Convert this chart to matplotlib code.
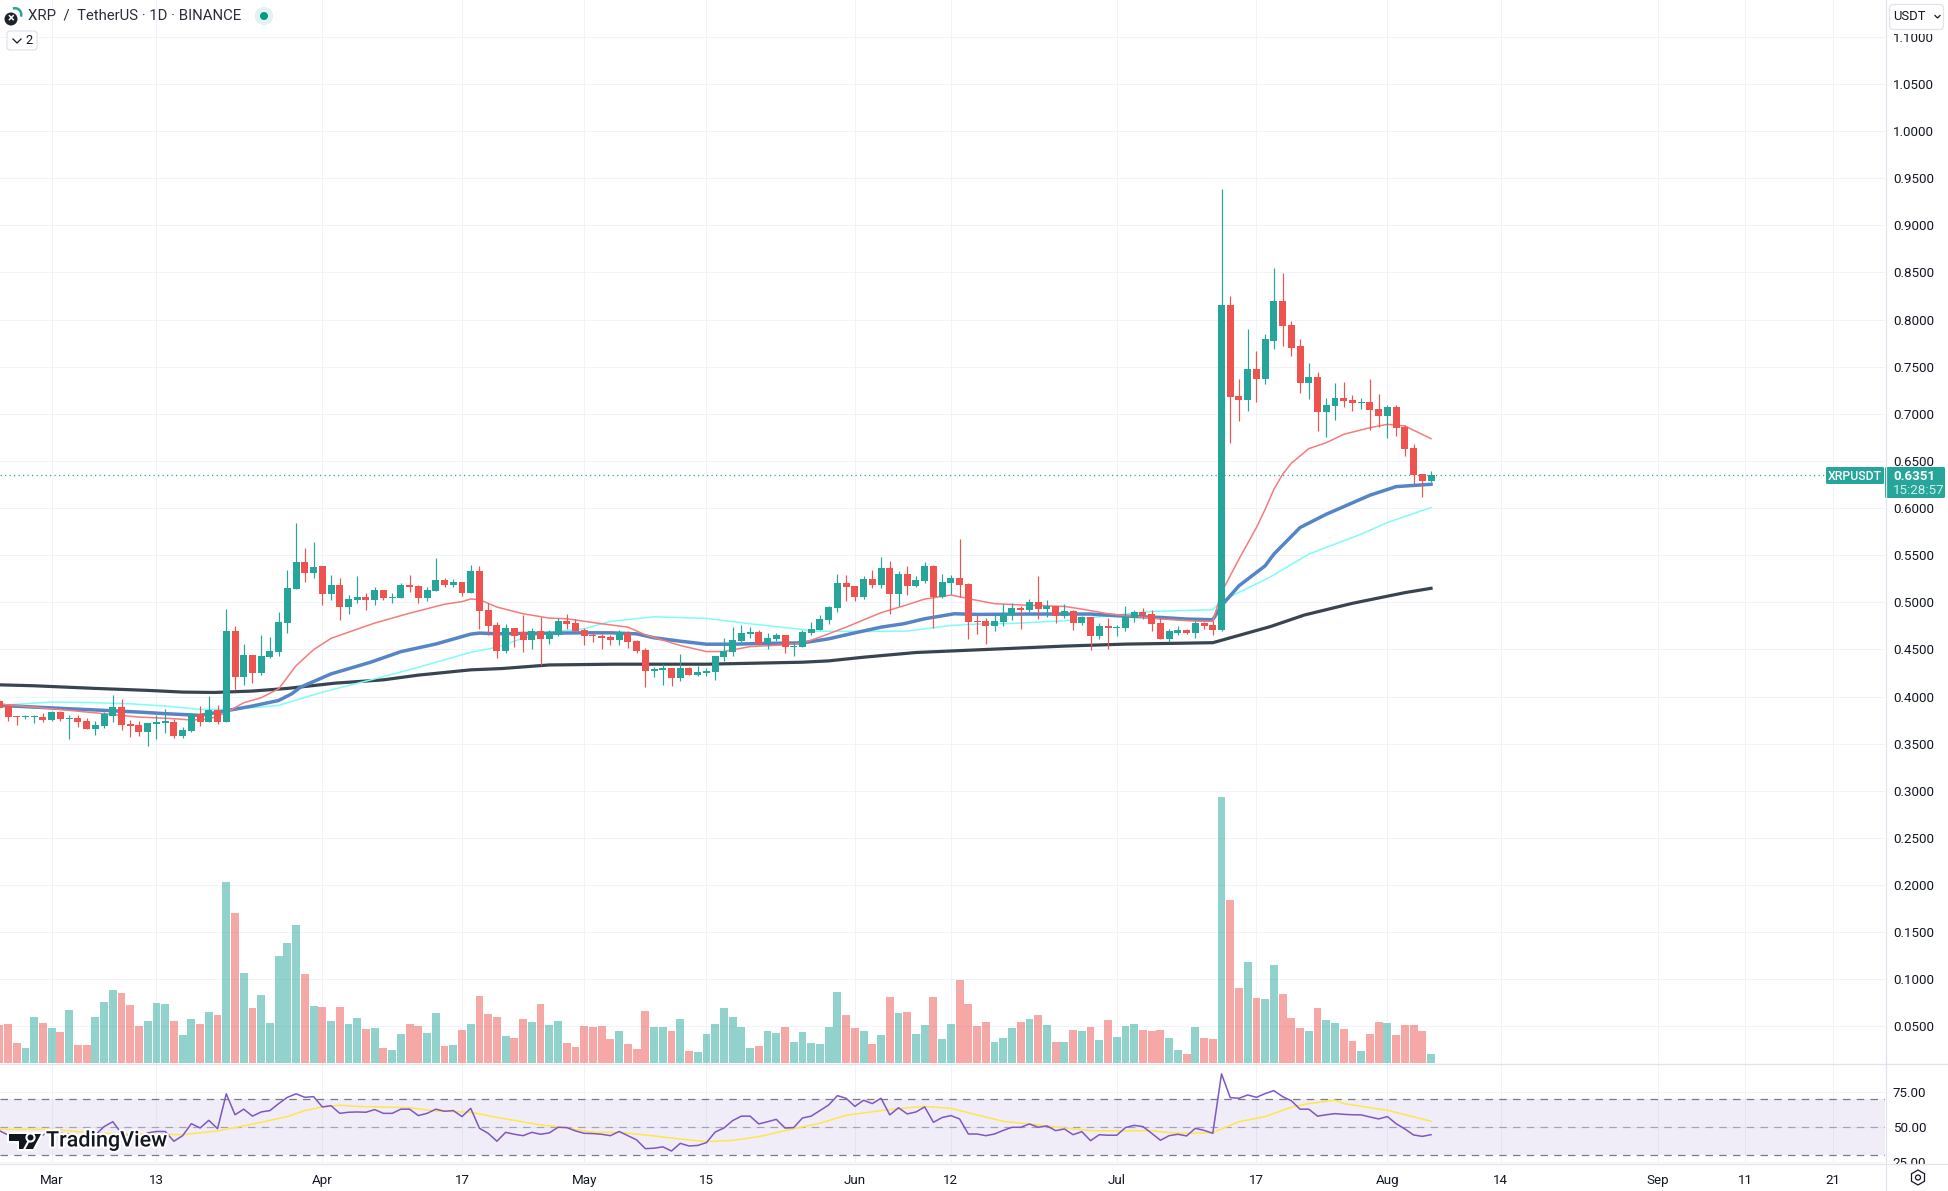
import matplotlib
matplotlib.use("Agg")
import matplotlib.pyplot as plt
import matplotlib.patheffects as pe
from matplotlib.patches import Rectangle, FancyBboxPatch, Circle, RegularPolygon, Polygon, Wedge

# days are counted from 1 Mar 2023
first_day = -6

open_px = [
    .3955, .3899, .3793, .3779, .3779, .3786, .3754, .3839, .3765, .3775,
    .3744, .3659, .3691, .3796, .3892, .3712, .3701, .3627, .3712, .3723,
    .3733, .3585, .3638, .3811, .3733, .3860, .3733, .4694, .4208, .4441,
    .4251, .4420, .4472, .4779, .5138, .5423, .5307, .5380, .5085, .5180,
    .4948, .5021, .5053, .5021, .5127, .5043, .5043, .5180, .5169, .5043,
    .5116, .5233, .5180, .5212, .5095, .5328, .4916, .4757, .4484, .4729,
    .4687, .4601, .4697, .4612, .4655, .4804, .4782, .4708, .4655, .4644,
    .4633, .4601, .4676, .4591, .4495, .4271, .4282, .4303, .4197, .4303,
    .4229, .4250, .4261, .4420, .4474, .4591, .4665, .4687, .4569, .4612,
    .4655, .4527, .4527, .4676, .4708, .4814, .4942, .5208, .5176, .5059,
    .5251, .5187, .5368, .5091, .5304, .5176, .5230, .5389, .5059, .5208,
    .5262, .5198, .4804, .4800, .4747, .4790, .4864, .4939, .4917, .5003,
    .4928, .4960, .4853, .4907, .4779, .4843, .4640, .4747, .4726, .4726,
    .4832, .4896, .4875, .4779, .4609, .4672, .4704, .4672, .4779, .4758,
    .4706, .8158, .7184, .7142, .7470, .7364, .7777, .8201, .7947, .7714,
    .7322, .7385, .7015, .7078, .7163, .7142, .7110, .7121, .7046, .6972,
    .7068, .6856, .6633, .6358, .6284,
]
high_px = [
    .3976, .3913, .3793, .3807, .3807, .3825, .3849, .3849, .3807, .3807,
    .3772, .3744, .3839, .4018, .3976, .3754, .3744, .3723, .3807, .3870,
    .3765, .3680, .3828, .3902, .4008, .3913, .4926, .4747, .4557, .4441,
    .4652, .4631, .4895, .5338, .5845, .5581, .5644, .5380, .5285, .5254,
    .5074, .5275, .5095, .5159, .5127, .5095, .5201, .5285, .5180, .5159,
    .5465, .5254, .5243, .5212, .5391, .5380, .4990, .4789, .4772, .4729,
    .4868, .4729, .4846, .4708, .4836, .4878, .4825, .4729, .4676, .4665,
    .4655, .4708, .4697, .4601, .4516, .4314, .4346, .4303, .4452, .4314,
    .4324, .4303, .4431, .4623, .4740, .4761, .4740, .4708, .4676, .4676,
    .4655, .4580, .4708, .4793, .4868, .4963, .5304, .5294, .5176, .5283,
    .5347, .5475, .5443, .5336, .5389, .5283, .5432, .5400, .5304, .5294,
    .5666, .5208, .4868, .4832, .4864, .4981, .4992, .4960, .5035, .5280,
    .5024, .4960, .4981, .4917, .4853, .4843, .4779, .4832, .4758, .4960,
    .4917, .4939, .4917, .4832, .4715, .4747, .4715, .4800, .4790, .4800,
    .9387, .8254, .7364, .7904, .7661, .7851, .8550, .8497, .7989, .7798,
    .7534, .7438, .7163, .7322, .7332, .7195, .7163, .7364, .7205, .7089,
    .7089, .6877, .6676, .6358, .6390,
]
low_px = [
    .3860, .3736, .3701, .3758, .3716, .3726, .3736, .3744, .3547, .3680,
    .3659, .3596, .3670, .3733, .3649, .3575, .3585, .3480, .3554, .3617,
    .3564, .3564, .3627, .3691, .3733, .3712, .3733, .4071, .4124, .4145,
    .4229, .4409, .4430, .4673, .5138, .5212, .5254, .4969, .5021, .4810,
    .4874, .4990, .4916, .4969, .5021, .4990, .5043, .5106, .4990, .5011,
    .5116, .5159, .5159, .5064, .5095, .4715, .4652, .4409, .4463, .4527,
    .4474, .4506, .4335, .4559, .4644, .4719, .4697, .4548, .4580, .4506,
    .4548, .4548, .4516, .4463, .4101, .4207, .4122, .4111, .4165, .4229,
    .4218, .4218, .4175, .4378, .4431, .4580, .4623, .4548, .4506, .4591,
    .4463, .4431, .4527, .4655, .4708, .4772, .4900, .5017, .5017, .5038,
    .5155, .5155, .4878, .4963, .5081, .5166, .5208, .4729, .5049, .5091,
    .5059, .4612, .4665, .4555, .4694, .4747, .4811, .4715, .4896, .4822,
    .4843, .4779, .4832, .4704, .4758, .4491, .4609, .4502, .4640, .4694,
    .4790, .4822, .4694, .4609, .4577, .4651, .4662, .4619, .4715, .4651,
    .4695, .6686, .6919, .7025, .7121, .7311, .7692, .7714, .7608, .7216,
    .7152, .6813, .6750, .6930, .7068, .7025, .7046, .6824, .6856, .6739,
    .6760, .6549, .6252, .6114, .6273,
]
close_px = [
    .3881, .3779, .3782, .3789, .3789, .3754, .3839, .3765, .3775, .3733,
    .3659, .3701, .3811, .3892, .3701, .3691, .3627, .3723, .3733, .3733,
    .3585, .3649, .3811, .3733, .3860, .3733, .4694, .4208, .4441, .4251,
    .4430, .4483, .4789, .5148, .5423, .5307, .5370, .5085, .5180, .4948,
    .5032, .5053, .5021, .5127, .5043, .5053, .5180, .5159, .5043, .5127,
    .5233, .5180, .5212, .5095, .5328, .4905, .4747, .4483, .4729, .4644,
    .4601, .4697, .4612, .4687, .4804, .4772, .4697, .4644, .4644, .4623,
    .4601, .4687, .4580, .4484, .4271, .4293, .4303, .4197, .4303, .4229,
    .4261, .4271, .4431, .4484, .4601, .4676, .4687, .4559, .4623, .4655,
    .4527, .4537, .4687, .4719, .4825, .4953, .5208, .5166, .5059, .5251,
    .5187, .5368, .5091, .5304, .5176, .5240, .5389, .5059, .5219, .5262,
    .5187, .4793, .4793, .4747, .4800, .4875, .4939, .4917, .5003, .4928,
    .4960, .4853, .4907, .4779, .4843, .4640, .4747, .4726, .4736, .4843,
    .4896, .4864, .4768, .4609, .4694, .4704, .4672, .4779, .4747, .4704,
    .8158, .7173, .7142, .7470, .7364, .7788, .8201, .7936, .7703, .7322,
    .7385, .7015, .7089, .7163, .7131, .7110, .7121, .7036, .6972, .7068,
    .6845, .6623, .6347, .6284, .6351,
]
# volume has no readable scale in the picture, so it is in arbitrary units
volume = [
    38, 39, 20, 15, 46, 40, 35, 31, 53, 18,
    18, 46, 61, 73, 70, 58, 37, 42, 60, 59,
    42, 28, 44, 39, 51, 48, 181, 150, 90, 55,
    68, 40, 107, 120, 138, 89, 57, 56, 42, 56,
    39, 45, 34, 35, 15, 13, 29, 39, 37, 30,
    50, 17, 18, 33, 39, 67, 49, 46, 27, 25,
    44, 41, 59, 38, 42, 20, 16, 37, 36, 37,
    24, 32, 19, 14, 52, 36, 36, 32, 44, 12,
    11, 29, 39, 55, 46, 36, 15, 17, 32, 30,
    36, 21, 31, 20, 19, 36, 71, 48, 35, 32,
    19, 28, 66, 50, 51, 29, 38, 66, 24, 39,
    83, 59, 37, 41, 21, 25, 35, 41, 44, 48,
    38, 21, 21, 33, 32, 36, 23, 43, 26, 37,
    39, 33, 32, 33, 25, 13, 9, 36, 25, 24,
    266, 163, 75, 101, 65, 64, 98, 69, 45, 35,
    32, 55, 43, 40, 34, 22, 12, 29, 41, 40,
    28, 38, 38, 32, 9,
]
rsi = [
    47.6, 44.5, 42, 41, 43, 44.5, 48, 45.7, 45, 43.3,
    42, 44.5, 50.5, 54, 45.7, 43.3, 42, 46, 47, 47,
    40, 44, 52.6, 49.5, 55, 49, 74, 59, 63, 58,
    61, 62, 67, 71.5, 74, 71.5, 72, 64.6, 65.5, 60,
    60.8, 61, 60.8, 62.7, 60, 60, 63, 63, 58.4, 60,
    63, 61.5, 62, 57.7, 63.6, 49.3, 45.7, 40, 46.4, 45,
    44, 46.4, 45, 46, 50, 49.8, 47.4, 45.7, 45.5, 45,
    44, 47, 44, 41, 34.7, 35, 36, 33, 38.5, 36.6,
    37, 39, 46.6, 49.5, 54.8, 58, 58, 52.4, 54, 55.7,
    49.5, 49.8, 56.7, 58, 62, 66, 72.7, 70.8, 65, 69.4,
    67, 70.8, 58.9, 64, 59.6, 61, 64.6, 53.6, 57, 58.4,
    56, 45.2, 45.2, 44, 45.2, 47.8, 50, 50, 52.4, 50,
    51, 47.6, 48.8, 44.7, 46.9, 40.4, 44.7, 44.3, 44.3, 49.8,
    51.4, 50.5, 45.7, 40.7, 44, 45, 43.8, 49.3, 47.8, 45.7,
    88.3, 71.3, 70.8, 73.2, 71.5, 74.2, 76.3, 72, 69, 63,
    63, 58, 59, 59.8, 59.3, 59, 58.9, 57.4, 56, 57.7,
    52.6, 48.8, 44.5, 43.5, 44.7,
]

# moving averages, read at the bends of each line
ma_red_days = [-6, 0, 6, 10, 14, 16, 18, 20, 22, 24, 26, 27, 28, 30, 32, 35, 37, 41, 45, 47, 48, 49, 51,
               54, 57, 59, 63, 66, 68, 72, 75, 77, 80, 84, 86, 88, 91, 95, 98, 100, 103, 106,
               108, 112, 116, 118, 121, 124, 127, 131, 133, 134, 136, 138, 139, 140, 141, 142,
               144, 146, 148, 151, 153, 155, 158]
ma_red = [.392, .387, .3818, .3782, .3765, .375, .376, .383, .3934, .3987, .4082, .4205, .4328, .4497,
          .4617, .4715, .4779, .4884, .4979, .5007, .5035, .5028, .4949,
          .4878, .4832, .4825, .4772, .4736, .4655, .4541, .4477, .4477, .453, .4548, .4566, .463,
          .4736, .4889, .4974, .5034, .5077, .502,
          .4985, .4967, .4956, .4928, .4878, .485, .4822, .48, .4797, .5105, .5458, .5793, .5987,
          .6199, .6358, .6475, .663, .6693, .6782, .6852, .6888, .687, .6736]

ma_blue_days = [-6, -2, 2, 6, 10, 13, 17, 20, 23, 26, 27.5, 28.5, 32, 36.5, 40, 44, 48, 49, 51,
                61, 64, 67, 69, 72, 75, 78, 81, 86, 89, 91.5, 95, 97.6, 100, 103.4, 106,
                112, 119, 122, 127, 130, 133, 134, 136, 139, 140, 143, 146, 151, 154, 158]
ma_blue = [.3906, .3888, .387, .3853, .3835, .3818, .38, .3849, .3899, .3958, .4029, .4099, .424,
           .4363, .4476, .4557, .4662, .4673, .4666,
           .4676, .4676, .4665, .4623, .4587, .4555, .4555, .4562, .4569, .4612, .4665, .4736,
           .4772, .4825, .4878, .4871,
           .4875, .4875, .4857, .4839, .4822, .4815, .4964, .5175, .5387, .5511, .5793, .5934,
           .6136, .6227, .6252]

ma_cyan_days = [-6, 0, 4, 9, 13, 17, 20, 24, 26, 31, 37, 42, 48, 51, 54, 57, 61, 64, 69, 75, 80, 86,
                87.3, 93, 98, 103, 106, 110, 116, 119, 123, 126, 133, 134, 136, 139.5, 144, 147,
                150, 153, 158]
ma_cyan = [.3906, .3941, .3937, .3923, .3899, .3863, .3863, .3888, .3906, .4046, .4187, .431, .4469,
           .4523, .4619, .4683, .4719, .4797, .4846, .4829, .4772, .4711,
           .4694, .469, .4694, .4754, .4768, .4775, .4804, .4836, .4875, .4903, .4921, .5017,
           .5105, .5264, .5511, .5617, .5723, .5846, .6005]

ma_dark_days = [-6, -2, 5, 11, 15, 18.6, 23, 27, 32.5, 38, 42, 48, 51.6, 57, 64.5, 75, 86, 89, 93,
                99, 106, 116, 123, 133, 139.6, 143.5, 149, 155, 158]
ma_dark = [.4124, .4114, .4086, .4065, .4047, .4043, .4058, .4086, .4142, .4177, .4227, .4283, .4297,
           .4335, .4343, .4343, .4364, .4378, .4417, .4467, .4495, .4535, .4556, .4571, .4742,
           .4865, .4989, .5102, .5148]

rsi_ma_days = [-6, 0, 5, 12, 15, 19, 21, 24, 27, 29, 31, 33, 35, 41, 44, 48, 51, 56, 58, 62, 65, 68,
               72, 75, 78, 81, 85, 88, 91, 95, 98, 100, 103, 106, 109, 113, 116, 119, 123, 126,
               128, 130, 133, 136, 139, 142, 144, 147, 148, 153, 158]
rsi_ma = [48.6, 48.6, 45.7, 45.2, 44.7, 47.4, 49.8, 53.6, 57.7, 62, 64.6, 65.8, 65, 64, 61.7, 60.8,
          57.1, 51.7, 50.5, 46.4, 46.4, 44.5, 41.6, 39.7, 40.6, 43.3, 49, 52.9, 58.6, 62, 64, 65,
          63.6, 58.9, 54.3, 51.7, 49.5, 47.6, 47.4, 47.6, 46.2, 45.7, 46.2, 54, 57.7, 64.4, 67,
          69.4, 67, 62.2, 54.3]

price_ticks = [.05, .10, .15, .20, .25, .30, .35, .40, .45, .50, .55, .60, .65, .70, .75, .80, .85,
               .90, .95, 1.00, 1.05, 1.10]
rsi_ticks = [25, 50, 75]
time_ticks = [0, 12, 31, 47, 61, 75, 92, 103, 122, 138, 153, 166, 184, 194, 204]
time_labels = ["Mar", "13", "Apr", "17", "May", "15", "Jun", "12", "Jul", "17", "Aug", "14", "Sep", "11", "21"]

W, H = 1948, 1191
UP = "#26a69a"
DOWN = "#ef5350"
GRID = "#f0f3fa"
LINE = "#e0e3eb"
TEXT = "#131722"
FONT = ["Roboto", "DejaVu Sans"]

plt.rcParams["font.family"] = FONT
plt.rcParams["font.size"] = 9.6


def px_rect(x0, y0, x1, y1):
    return [x0 / W, 1 - y1 / H, (x1 - x0) / W, (y1 - y0) / H]


days = [first_day + i for i in range(len(open_px))]
colors = [UP if c >= o else DOWN for o, c in zip(open_px, close_px)]
xlim = (-5.92, 210.0)

fig = plt.figure(figsize=(W / 100, H / 100), dpi=100, facecolor="white")

# price pane
ax = fig.add_axes(px_rect(0, 0, 1885, 1064), zorder=1)
ax.set_xlim(*xlim)
ax.set_ylim(0.0101, 1.139)
ax.set_axisbelow(True)
ax.grid(True, color=GRID, lw=0.72)
ax.set_xticks(time_ticks)
ax.set_yticks(price_ticks)
ax.set_yticklabels([f"{t:.4f}" for t in price_ticks])
ax.yaxis.tick_right()
ax.tick_params(axis="y", length=0, pad=5.6, labelcolor=TEXT)
ax.tick_params(axis="x", length=0, labelbottom=False)
for s in ax.spines.values():
    s.set_visible(False)

ax.axhline(close_px[-1], color=UP, lw=0.9, ls=(0, (1, 2.6)), zorder=2)
ax.plot(ma_dark_days, ma_dark, color="#38444f", lw=2.3, zorder=3)
ax.plot(ma_cyan_days, ma_cyan, color="#7ffcf6", lw=1.1, zorder=3)
ax.plot(ma_blue_days, ma_blue, color="#5585c4", lw=2.5, zorder=3)
ax.plot(ma_red_days, ma_red, color="#f47c7c", lw=1.1, zorder=3)

ax.vlines(days, low_px, high_px, colors=colors, lw=0.85, zorder=4)
body_low = [min(o, c) for o, c in zip(open_px, close_px)]
body_h = [max(abs(o - c), 0.0012) for o, c in zip(open_px, close_px)]
ax.bar(days, body_h, bottom=body_low, width=0.8, color=colors, lw=0, zorder=5)

# volume pane shares the price pane's area
ax_vol = fig.add_axes(px_rect(0, 0, 1885, 1064), zorder=2)
ax_vol.patch.set_alpha(0)
ax_vol.set_xlim(*xlim)
ax_vol.set_ylim(-1, 1063)
ax_vol.axis("off")
ax_vol.bar(days, volume, width=0.9, color=colors, alpha=0.5, lw=0)

# rsi pane
ax_rsi = fig.add_axes(px_rect(0, 1064, 1885, 1163), zorder=1)
ax_rsi.set_xlim(*xlim)
ax_rsi.set_ylim(24.4, 95.4)
ax_rsi.set_axisbelow(True)
ax_rsi.grid(True, color=GRID, lw=0.72)
ax_rsi.axhspan(30, 70, color="#7e57c2", alpha=0.1, lw=0, zorder=1)
ax_rsi.axhline(70, color="#787b86", lw=0.9, ls=(0, (6, 5)), zorder=2)
ax_rsi.axhline(50, color="#787b86", lw=0.9, ls=(0, (6, 5)), alpha=0.6, zorder=2)
ax_rsi.axhline(30, color="#787b86", lw=0.9, ls=(0, (6, 5)), zorder=2)
ax_rsi.plot(rsi_ma_days, rsi_ma, color="#fde74c", lw=1.1, zorder=3)
ax_rsi.plot(days, rsi, color="#7e57c2", lw=1.1, zorder=4)
ax_rsi.set_xticks(time_ticks)
ax_rsi.set_xticklabels(time_labels)
ax_rsi.set_yticks(rsi_ticks)
ax_rsi.set_yticklabels([f"{t:.2f}" for t in rsi_ticks])
ax_rsi.yaxis.tick_right()
ax_rsi.tick_params(axis="y", length=0, pad=5.6, labelcolor=TEXT)
ax_rsi.tick_params(axis="x", length=0, pad=7.9, labelcolor=TEXT)
for s in ax_rsi.spines.values():
    s.set_visible(False)

# chart furniture, placed in screen pixels
ov = fig.add_axes([0, 0, 1, 1], zorder=5)
ov.set_xlim(0, W)
ov.set_ylim(H, 0)
ov.axis("off")
ov.patch.set_alpha(0)

ov.add_patch(Rectangle((1886, 0), 62, 34, color="white", lw=0))
ov.add_patch(Rectangle((1886, 1164), 62, 8, color="white", lw=0))
ov.plot([1885.5, 1885.5], [0, H], color=LINE, lw=0.9)
ov.plot([0, W], [1063.5, 1063.5], color=LINE, lw=0.9)
ov.plot([0, W], [1163.5, 1163.5], color=LINE, lw=0.9)

# header
ov.add_patch(Wedge((15, 14.5), 7.5, 250, 20, width=2.5, color=UP, lw=0))
ov.add_patch(Circle((11, 19), 6.5, color="#1e222d", lw=0))
ov.text(11, 19, "×", color="white", fontsize=9, ha="center", va="center", fontweight="bold")
ov.text(28, 16, "XRP  /  TetherUS · 1D · BINANCE", color="#2a2e39", fontsize=10.7, va="center")
ov.add_patch(Circle((264, 16), 9, color="#dff3ef", lw=0))
ov.add_patch(Circle((264, 16), 4, color="#089981", lw=0))
ov.add_patch(FancyBboxPatch((7, 31), 30, 19, boxstyle="round,pad=0,rounding_size=3",
                            fc="white", ec=LINE, lw=0.9))
ov.plot([13, 17, 21], [39, 43, 39], color="#131722", lw=0.9)
ov.text(29, 40.5, "2", color=TEXT, fontsize=9.2, ha="center", va="center")

# currency button
ov.add_patch(FancyBboxPatch((1889.5, 4.5), 54, 25, boxstyle="round,pad=0,rounding_size=4",
                            fc="white", ec=LINE, lw=0.9))
ov.text(1893, 17, "USDT", color=TEXT, fontsize=9.4, va="center")
ov.plot([1935, 1937.5, 1940], [15.5, 18, 15.5], color=TEXT, lw=0.9)

# last price tags
ov.add_patch(FancyBboxPatch((1826, 467), 58, 17, boxstyle="round,pad=0,rounding_size=1.5", color=UP, lw=0))
ov.text(1855, 476, "XRPUSDT", color="white", fontsize=8.8, ha="center", va="center", fontweight="medium")
ov.add_patch(FancyBboxPatch((1885, 467), 60, 31, boxstyle="round,pad=0,rounding_size=1.5", color=UP, lw=0))
ov.text(1893, 476, f"{close_px[-1]:.4f}", color="white", fontsize=9.6, va="center", fontweight="bold")
ov.text(1893, 490, "15:28:57", color="#d3eeeb", fontsize=9.6, va="center")

# settings gear
ov.add_patch(RegularPolygon((1918, 1177.5), 6, radius=7.5, orientation=0, fc="white", ec="#131722", lw=0.9))
ov.add_patch(Circle((1918, 1177.5), 2.5, fc="white", ec="#131722", lw=0.9))

# watermark
halo = [pe.withStroke(linewidth=3, foreground="white")]
for shape in [
    Polygon([(9, 1134), (27, 1134), (27, 1149), (19, 1149), (19, 1141), (9, 1141)], closed=True),
    Polygon([(33, 1149), (41, 1134), (33.5, 1134), (25.5, 1149)], closed=True),
]:
    shape.set(color="#131722", lw=0, path_effects=halo)
    ov.add_patch(shape)
dot = Circle((30.5, 1137.5), 3, color="#131722", lw=0, path_effects=halo)
ov.add_patch(dot)
ov.text(46, 1141, "TradingView", color="#131722", fontsize=15.5, va="center", fontweight="medium",
        path_effects=halo)

fig.savefig("out.png", dpi=100, facecolor="white")
